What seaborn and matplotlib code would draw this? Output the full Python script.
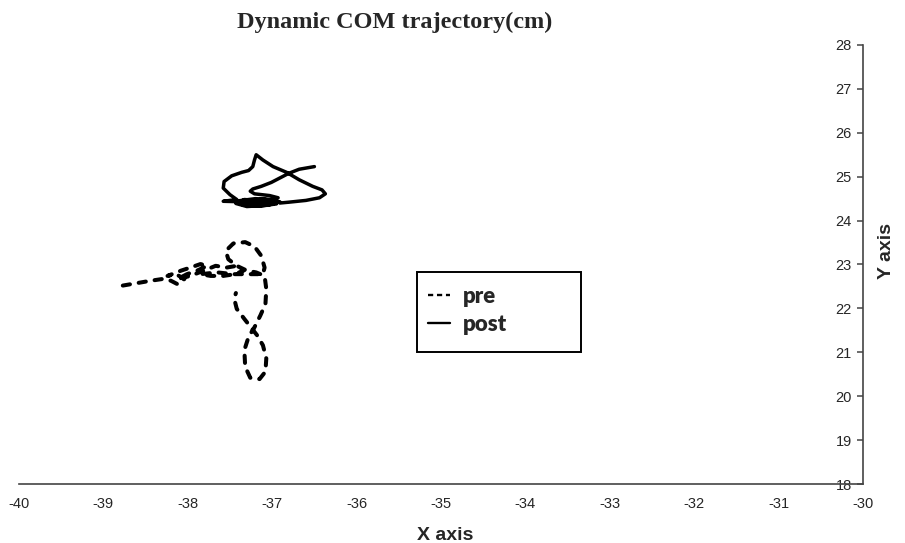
import pandas as pd
import matplotlib
matplotlib.use("Agg")
import matplotlib.pyplot as plt
from matplotlib.lines import Line2D
from matplotlib.patches import Rectangle
import seaborn as sns

# pre trajectory (dashed)
pre_x = [-38.77, -38.59, -38.44, -38.30, -38.20, -38.12, -38.04, -38.14, -38.24, -38.08,
         -37.97, -37.85, -37.77, -37.89, -38.01, -38.12, -37.97, -37.81, -37.67, -37.54,
         -37.42, -37.34, -37.44, -37.58, -37.73, -37.85, -37.65, -37.46, -37.26, -37.11,
         -37.09, -37.13, -37.21, -37.32, -37.46, -37.55, -37.52, -37.42, -37.30, -37.19,
         -37.09, -37.07, -37.08, -37.14, -37.21, -37.28, -37.33, -37.32, -37.26, -37.15,
         -37.08, -37.07, -37.11, -37.18, -37.24, -37.33, -37.42, -37.45, -37.43]
pre_y = [22.52, 22.58, 22.63, 22.67, 22.63, 22.55, 22.67, 22.78, 22.74, 22.86,
         22.93, 23.01, 22.97, 22.86, 22.78, 22.67, 22.74, 22.86, 22.97, 22.93,
         22.97, 22.86, 22.78, 22.74, 22.74, 22.78, 22.82, 22.78, 22.78, 22.78,
         22.93, 23.20, 23.41, 23.51, 23.48, 23.31, 23.12, 22.97, 22.86, 22.82,
         22.74, 22.44, 22.10, 21.84, 21.57, 21.35, 21.05, 20.67, 20.42, 20.39,
         20.56, 20.86, 21.16, 21.39, 21.54, 21.76, 21.99, 22.22, 22.35]

# post trajectory (solid)
post_x = [-36.50, -36.68, -36.80, -36.91, -37.01, -37.13, -37.23, -37.26, -37.21, -37.03,
          -36.93, -37.00, -37.20, -37.40, -37.35, -37.15, -36.95, -37.10, -37.33, -37.43,
          -37.30, -37.05, -36.91, -37.10, -37.35, -37.25, -37.00, -37.58, -37.42, -37.50,
          -37.58, -37.57, -37.48, -37.36, -37.28, -37.23, -37.21, -37.19, -37.11, -36.99,
          -36.83, -36.68, -36.52, -36.41, -36.37, -36.44, -36.60, -36.80, -36.91]
post_y = [25.23, 25.17, 25.08, 24.97, 24.87, 24.78, 24.72, 24.67, 24.61, 24.57,
          24.52, 24.48, 24.50, 24.45, 24.36, 24.33, 24.38, 24.45, 24.48, 24.39,
          24.32, 24.35, 24.43, 24.49, 24.43, 24.37, 24.41, 24.44, 24.48, 24.59,
          24.74, 24.89, 25.02, 25.10, 25.14, 25.23, 25.38, 25.50, 25.38, 25.23,
          25.10, 24.93, 24.78, 24.70, 24.61, 24.52, 24.46, 24.42, 24.40]

x_ticks = list(range(-40, -29))
y_ticks = list(range(18, 29))

pre = pd.DataFrame({'x': pre_x, 'y': pre_y, 'phase': 'pre'})
post = pd.DataFrame({'x': post_x, 'y': post_y, 'phase': 'post'})

sns.set_style('white')
plt.rcParams['font.family'] = ['Liberation Sans', 'DejaVu Sans']
plt.rcParams['axes.unicode_minus'] = False

fig = plt.figure(figsize=(9.05, 5.43), dpi=100)
ax = fig.add_axes([19 / 905, 1 - 484 / 543, (863 - 19) / 905, (484 - 45) / 543])

sns.lineplot(data=pre, x='x', y='y', sort=False, estimator=None, color='black',
             lw=2.9, ax=ax, legend=False)
ax.lines[-1].set_dashes((1.8, 2.2))
ax.lines[-1].set_dash_capstyle('round')
sns.lineplot(data=post, x='x', y='y', sort=False, estimator=None, color='black',
             lw=2.5, ax=ax, legend=False)
ax.lines[-1].set_solid_capstyle('round')

ax.set_xlim(-40, -30)
ax.set_ylim(18, 28)
ax.set_xticks(x_ticks)
ax.set_yticks(y_ticks)
ax.set_xlabel('')
ax.set_ylabel('')

for s in ['top', 'right']:
    ax.spines[s].set_visible(False)
ax.spines['left'].set_position(('data', -30))
for s in ['left', 'bottom']:
    ax.spines[s].set_color('#444444')
    ax.spines[s].set_linewidth(1.2)
ax.tick_params(axis='x', direction='in', length=4, width=1.1, color='#444444',
               labelsize=10.5, pad=9)
ax.tick_params(axis='y', direction='out', length=4, width=1.1, color='#444444',
               labelsize=10.5, pad=4, left=True)

fig.text(395 / 905, 1 - 22 / 543, 'Dynamic COM trajectory(cm)', ha='center', va='center',
         fontsize=17.5, fontweight='bold', family=['Liberation Serif', 'DejaVu Serif'])
fig.text(445 / 905, 1 - 535 / 543, 'X axis', ha='center', va='center',
         fontsize=14, fontweight='bold')
fig.text(886 / 905, 1 - 251 / 543, 'Y axis', ha='center', va='center', rotation=90,
         fontsize=14, fontweight='bold')

# legend box
fig.patches.append(Rectangle((417 / 905, 1 - 352 / 543), 164 / 905, 80 / 543,
                             transform=fig.transFigure, fill=False, edgecolor='black',
                             lw=1.4, zorder=5))
handles = [Line2D([], [], color='black', lw=1.7, dashes=(2.2, 1.6)),
           Line2D([], [], color='black', lw=1.7)]
ax.legend(handles, ['pre', 'post'], loc='upper left', frameon=False,
          bbox_to_anchor=(412 / 905, 1 - 270 / 543), bbox_transform=fig.transFigure,
          prop={'family': ['Lato', 'DejaVu Sans'], 'weight': 'heavy', 'size': 16},
          handlelength=1.0, handletextpad=0.6, labelspacing=0.32, borderpad=0.2)

fig.savefig('out.png', dpi=100)
